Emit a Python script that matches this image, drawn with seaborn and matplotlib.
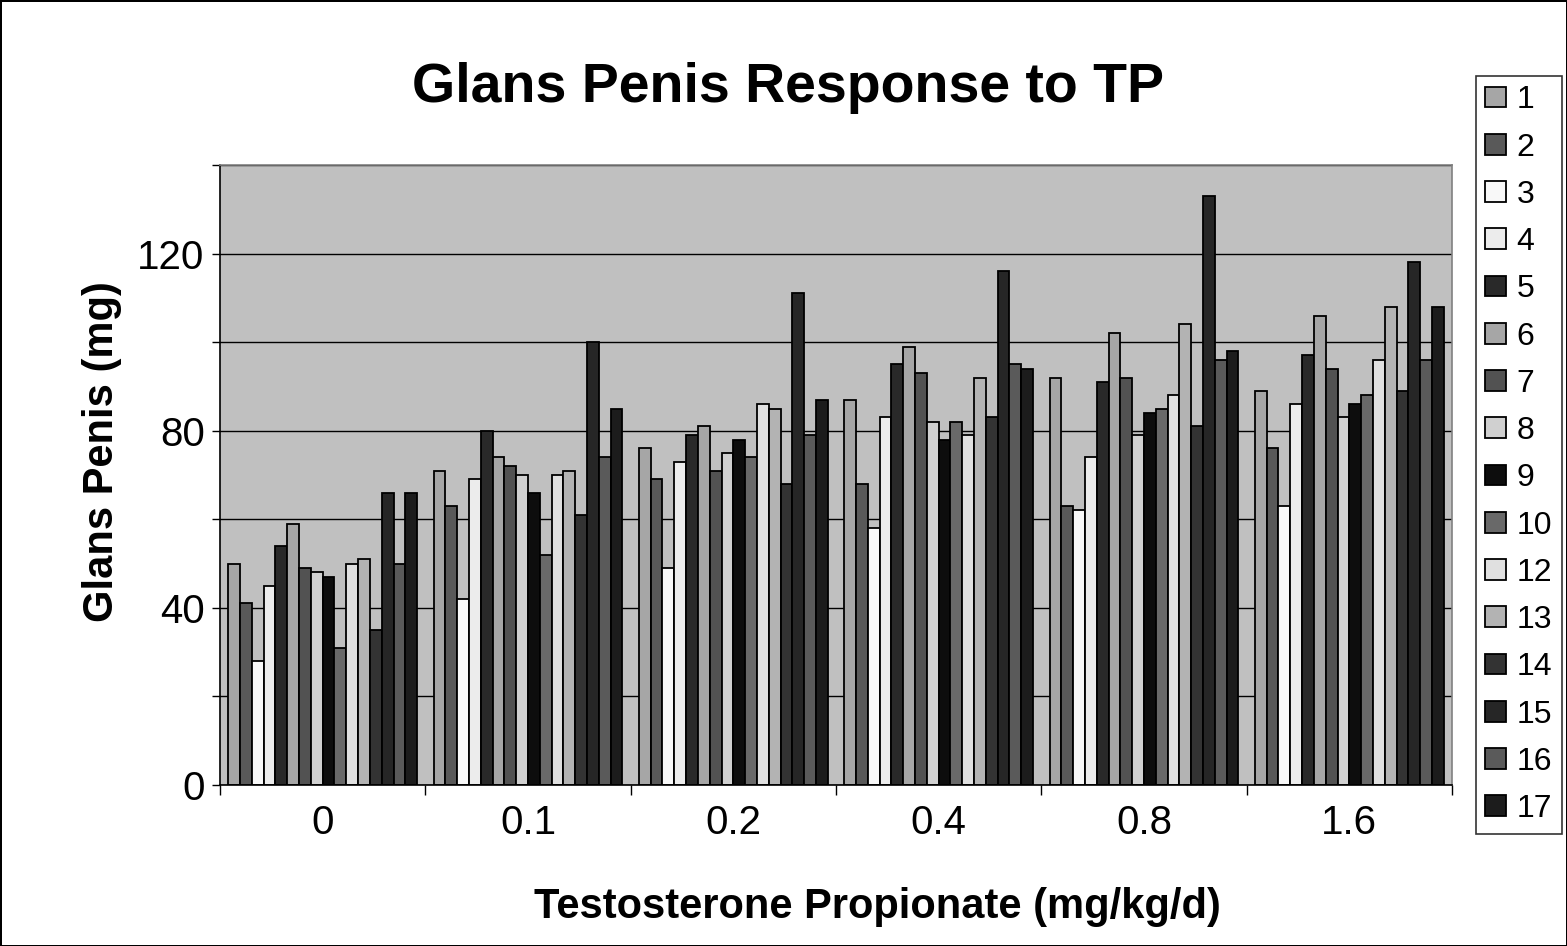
import numpy as np
import pandas as pd
import matplotlib
matplotlib.use('Agg')
import matplotlib.pyplot as plt
import seaborn as sns

# Data
doses = ['0', '0.1', '0.2', '0.4', '0.8', '1.6']
animals = ['1', '2', '3', '4', '5', '6', '7', '8', '9', '10', '12', '13', '14', '15', '16', '17']

dose_0 = [50, 41, 28, 45, 54, 59, 49, 48, 47, 31, 50, 51, 35, 66, 50, 66]
dose_01 = [71, 63, 42, 69, 80, 74, 72, 70, 66, 52, 70, 71, 61, 100, 74, 85]
dose_02 = [76, 69, 49, 73, 79, 81, 71, 75, 78, 74, 86, 85, 68, 111, 79, 87]
dose_04 = [87, 68, 58, 83, 95, 99, 93, 82, 78, 82, 79, 92, 83, 116, 95, 94]
dose_08 = [92, 63, 62, 74, 91, 102, 92, 79, 84, 85, 88, 104, 81, 133, 96, 98]
dose_16 = [89, 76, 63, 86, 97, 106, 94, 83, 86, 88, 96, 108, 89, 118, 96, 108]

colors = ['#a6a6a6', '#595959', '#f8f8f8', '#ececec', '#292929', '#a6a6a6',
          '#525252', '#d0d0d0', '#0d0d0d', '#696969', '#e0e0e0', '#b3b3b3',
          '#333333', '#262626', '#5a5a5a', '#1c1c1c']

# long format table
rows = []
for d, vals in zip(doses, [dose_0, dose_01, dose_02, dose_04, dose_08, dose_16]):
    for a, v in zip(animals, vals):
        rows.append({'dose': d, 'animal': a, 'mass': v})
df = pd.DataFrame(rows)

sns.set_style('white')
plt.rcParams['font.family'] = ['Liberation Sans', 'DejaVu Sans']
for k in ['text.color', 'axes.labelcolor', 'xtick.color', 'ytick.color']:
    plt.rcParams[k] = 'black'

fig = plt.figure(figsize=(15.67, 9.46), dpi=100)
ax = fig.add_axes([0.1404, 0.1702, 0.7862, 0.6554])

sns.barplot(data=df, x='dose', y='mass', hue='animal', order=doses, hue_order=animals,
            palette=dict(zip(animals, colors)), saturation=1, width=0.92,
            edgecolor='black', linewidth=1.3, errorbar=None, ax=ax)

ax.set_facecolor('#c0c0c0')
ax.set_ylim(0, 140)
ax.set_xlim(-0.5, 5.5)
ax.set_yticks(range(0, 141, 20))
ax.set_yticklabels(['0', '', '40', '', '80', '', '120', ''])
ax.yaxis.grid(True, color='black', linewidth=1)
ax.set_axisbelow(True)

ax.set_xticks(range(len(doses)))
ax.set_xticklabels(doses)
ax.set_xticks(np.arange(-0.5, 6, 1), minor=True)
ax.tick_params(axis='x', which='major', bottom=False, length=0, pad=14, labelsize=29)
ax.tick_params(axis='x', which='minor', bottom=True, length=7, width=1, direction='out', color='black')
ax.tick_params(axis='y', left=True, length=6, width=1, direction='out', color='black', pad=5, labelsize=29)

for s in ['left', 'bottom']:
    ax.spines[s].set_color('black')
    ax.spines[s].set_linewidth(1.2)
for s in ['top', 'right']:
    ax.spines[s].set_color('#808080')
    ax.spines[s].set_linewidth(1.2)

ax.set_xlabel('')
ax.set_ylabel('')
fig.text(0.560, 0.0412, 'Testosterone Propionate (mg/kg/d)', fontsize=30, fontweight='bold',
         ha='center', va='center')
fig.text(0.065, 0.523, 'Glans Penis (mg)', fontsize=30, fontweight='bold', rotation=90,
         ha='center', va='center')
fig.text(0.503, 0.907, 'Glans Penis Response to TP', fontsize=40, fontweight='bold',
         ha='center', va='center')

handles, labels = ax.get_legend_handles_labels()
ax.get_legend().remove()
leg = fig.legend(handles, labels, loc='upper left', bbox_to_anchor=(0.9418, 0.920),
                 frameon=True, fancybox=False, edgecolor='black', fontsize=23,
                 handlelength=0.63, handleheight=0.63, handletextpad=0.35,
                 labelspacing=0.54, borderpad=0.3, borderaxespad=0)
leg.get_frame().set_linewidth(1.2)

fig.patch.set_edgecolor('black')
fig.patch.set_linewidth(2)

fig.savefig('out.png', dpi=100, edgecolor=fig.get_edgecolor())
